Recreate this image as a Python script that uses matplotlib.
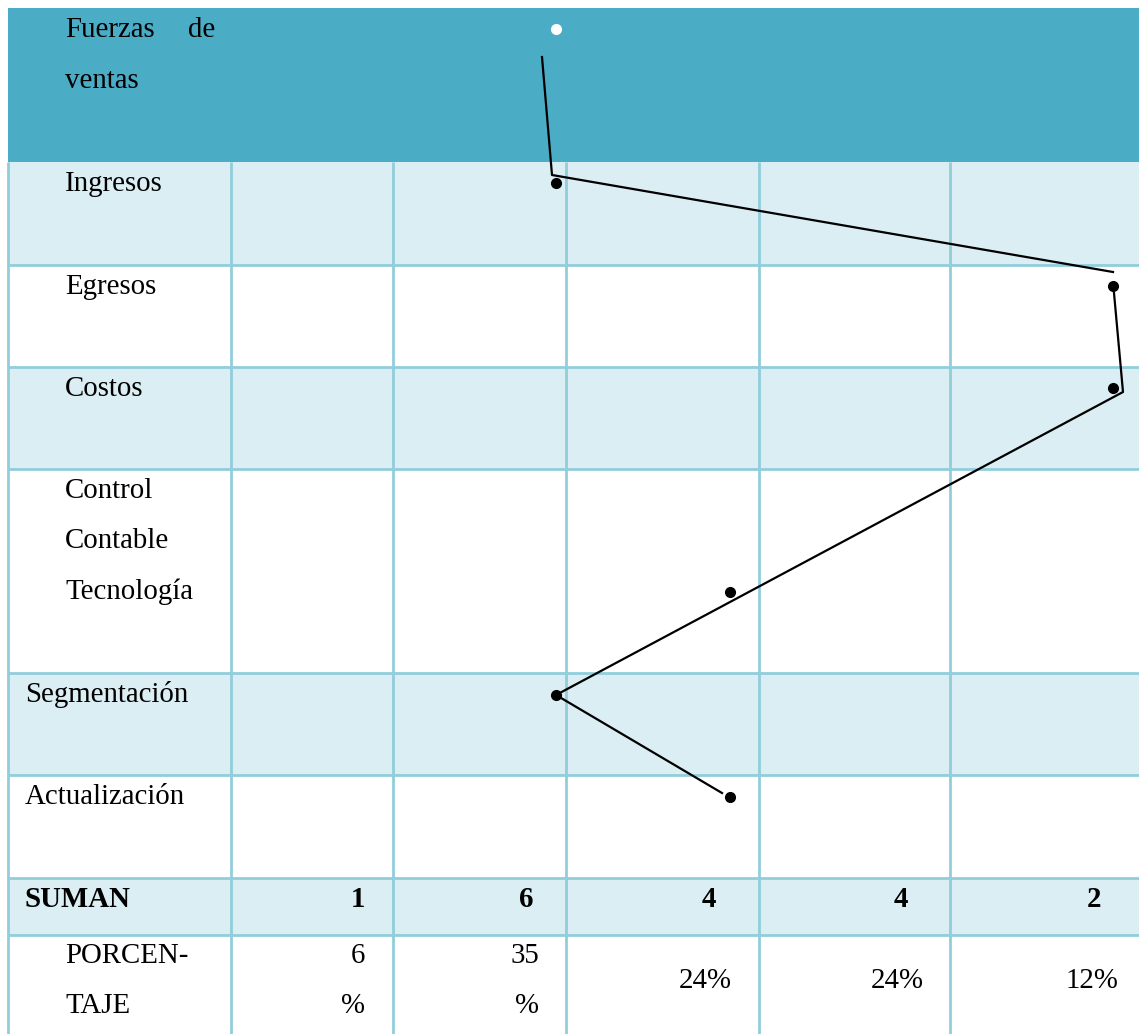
import matplotlib.pyplot as plt
from matplotlib.patches import Rectangle

plt.rcParams['font.family'] = ['Liberation Serif', 'DejaVu Serif']

# table layout (pixel units, y grows downwards)
col_edges = [8, 231, 393, 566, 759, 950, 1139]
row_edges = [8, 162, 265, 367, 469, 673, 775, 878, 935, 1034]
row_fill = ['#4BACC6', '#DAEEF3', 'white', '#DAEEF3', 'white',
            '#DAEEF3', 'white', '#DAEEF3', 'white']

# criteria labels: (text lines, left x)
criterios = [
    (["Fuerzas", "ventas"], 65),
    (["Ingresos"], 65),
    (["Egresos"], 65),
    (["Costos"], 65),
    (["Control", "Contable", "Tecnología"], 65),
    (["Segmentación"], 25),
    (["Actualización"], 25),
]

suman = [1, 6, 4, 4, 2]
suman_x = [365, 533, 716, 908, 1101]
pct_x = [365, 539, 732, 924, 1118]

# evaluation points and hand-drawn connecting line
dots_x = [556, 1113, 1113, 730, 556, 730]
dots_y = [183, 286, 388, 592, 695, 797]
line_x = [542, 552, 1113, None, 1114, 1123, 556, 722]
line_y = [57, 175, 272, None, 293, 392, 695, 793]

grid_color = '#92CDDC'
fs = 20.8

fig = plt.figure(figsize=(11.39, 10.34), dpi=100)
ax = fig.add_axes([0, 0, 1, 1])
ax.set_xlim(0, 1139)
ax.set_ylim(1034, 0)
ax.axis('off')

for i, c in enumerate(row_fill):
    ax.add_patch(Rectangle((col_edges[0], row_edges[i]), col_edges[-1] - col_edges[0],
                           row_edges[i + 1] - row_edges[i], facecolor=c, edgecolor='none', zorder=0))

# grid (header row has no inner lines)
ax.hlines(row_edges[2:-1], col_edges[0], col_edges[-1], colors=grid_color, lw=2, zorder=1)
ax.vlines(col_edges[:-1], row_edges[1], row_edges[-1], colors=grid_color, lw=2, zorder=1)

# row labels
line_gap = 50.5
for (lines, x), top in zip(criterios, row_edges[:-3]):
    for k, t in enumerate(lines):
        ax.text(x, top + 29 + k * line_gap, t, fontsize=fs, ha='left', va='baseline', zorder=3)
ax.text(215, row_edges[0] + 29, "de", fontsize=fs, ha='right', va='baseline', zorder=3)

# totals
ax.text(25, 907, "SUMAN", fontsize=fs, fontweight='bold', ha='left', va='baseline')
for x, v in zip(suman_x, suman):
    ax.text(x, 907, str(v), fontsize=fs, fontweight='bold', ha='right', va='baseline')

ax.text(65, 963, "PORCEN-", fontsize=fs, ha='left', va='baseline')
ax.text(65, 1013, "TAJE", fontsize=fs, ha='left', va='baseline')
total = sum(suman)
for j, (x, v) in enumerate(zip(pct_x, suman)):
    p = round(100 * v / total)
    if j < 2:
        ax.text(x, 963, str(p), fontsize=fs, ha='right', va='baseline')
        ax.text(x, 1013, "%", fontsize=fs, ha='right', va='baseline')
    else:
        ax.text(x, 988, f"{p}%", fontsize=fs, ha='right', va='baseline')

lx = [float('nan') if v is None else v for v in line_x]
ly = [float('nan') if v is None else v for v in line_y]
ax.plot(lx, ly, color='black', lw=1.6, zorder=4)
ax.plot(dots_x, dots_y, 'o', color='black', markersize=7, zorder=5)
ax.plot([556], [29], 'o', color='white', markersize=7, zorder=5)

fig.savefig('out.png', dpi=100)
